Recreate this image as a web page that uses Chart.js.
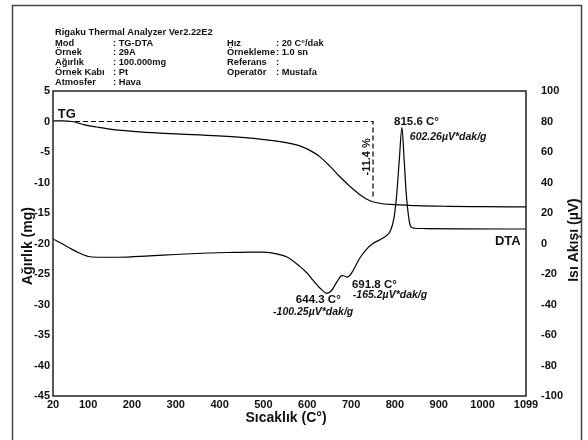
<!DOCTYPE html>
<html>
<head>
<meta charset="utf-8">
<script src="https://cdn.jsdelivr.net/npm/chart.js@4"></script>
<style>
  html, body { margin: 0; padding: 0; background: #fff; }
  canvas { display: block; }
</style>
</head>
<body>
<canvas id="myChart" width="588" height="440"></canvas>
<script>
// Data
const xTicks = [20, 100, 200, 300, 400, 500, 600, 700, 800, 900, 1000, 1099];

// TG curve (mass change, mg)
const tgTemp = [20, 40, 63, 90, 120, 150, 218, 290, 355, 450, 538, 583, 610, 629, 650, 675, 700, 720, 743, 765, 789, 850, 919, 1000, 1099];
const tgMass = [0.1, 0.1, 0, -0.5, -0.9, -1.25, -1.7, -2.0, -2.2, -2.6, -3.3, -4.0, -4.9, -5.8, -7.2, -9.1, -10.8, -12.0, -13.0, -13.4, -13.6, -13.8, -13.9, -13.95, -14.0];

// DTA curve (heat flow, µV)
const dtaTemp = [20, 40, 60, 80, 105, 130, 170, 240, 300, 360, 420, 470, 500, 530, 555, 583, 600, 613, 630, 645, 655, 668, 679, 685, 691, 697, 705, 720, 736, 750, 766, 780, 790, 798, 804, 810, 816, 821, 826, 831, 836, 845, 870, 950, 1099];
const dtaSignal = [3, 0, -3.3, -6.2, -8.7, -9.0, -9.0, -8.1, -7.2, -6.4, -5.9, -5.6, -5.7, -6.8, -9.0, -15, -19.5, -24, -29.5, -32.7, -31, -25, -21, -21.3, -22, -21, -17.5, -9.5, -3.5, 0, 2.5, 5, 8.5, 17, 32, 55, 76, 55, 32, 18, 11, 10, 9.8, 9.6, 9.5];

// -11.4 % mass loss step (dashed)
const stepTemp = [70, 750, 750];
const stepMass = [0, 0, -12.3];

// Header block
const headerTitle = 'Rigaku Thermal Analyzer Ver2.22E2';
const headerLeft = [['Mod', ': TG-DTA'], ['Örnek', ': 29A'], ['Ağırlık', ': 100.000mg'], ['Örnek Kabı', ': Pt'], ['Atmosfer', ': Hava']];
const headerRight = [['Hız', ': 20 C°/dak'], ['Örnekleme', ': 1.0 sn'], ['Referans', ':'], ['Operatör', ': Mustafa']];

// Labels on the plot: [text, temperature, value, axis, style]
const plotLabels = [
  ['TG', 31, 1.15, 'y', 'big'],
  ['815.6 C°', 798, 79.7, 'y1', 'bold'],
  ['602.26µV*dak/g', 834, 69.8, 'y1', 'italic'],
  ['644.3 C°', 574, -37.0, 'y1', 'bold'],
  ['-100.25µV*dak/g', 522, -44.9, 'y1', 'italic'],
  ['691.8 C°', 702, -27.2, 'y1', 'bold'],
  ['-165.2µV*dak/g', 704, -33.8, 'y1', 'italic'],
  ['DTA', 1028, 1.3, 'y1', 'big']
];

const FONT = '"Liberation Sans", Arial, sans-serif';

function toPoints(xs, ys) {
  return xs.map((x, i) => ({ x: x, y: ys[i] }));
}

const decorPlugin = {
  id: 'decor',
  beforeDraw(chart) {
    const c = chart.ctx;
    c.save();
    c.fillStyle = '#fff';
    c.fillRect(0, 0, chart.width, chart.height);
    c.restore();
  },
  afterDraw(chart) {
    const c = chart.ctx;
    const a = chart.chartArea;
    const sx = chart.scales.x;
    c.save();

    // outer frame
    c.strokeStyle = '#444';
    c.lineWidth = 1.5;
    c.strokeRect(12.5, 5.5, 569, 450);

    // plot frame
    c.strokeStyle = '#222';
    c.lineWidth = 1.5;
    c.strokeRect(a.left, a.top, a.right - a.left, a.bottom - a.top);

    // header
    c.fillStyle = '#111';
    c.textBaseline = 'middle';
    c.textAlign = 'left';
    c.font = 'bold 9.3px ' + FONT;
    c.fillText(headerTitle, 55, 32);
    headerLeft.forEach((r, i) => {
      c.fillText(r[0], 55, 43 + i * 9.8);
      c.fillText(r[1], 113, 43 + i * 9.8);
    });
    headerRight.forEach((r, i) => {
      c.fillText(r[0], 227, 43 + i * 9.8);
      c.fillText(r[1], 276, 43 + i * 9.8);
    });

    // labels on curves
    plotLabels.forEach(l => {
      const px = sx.getPixelForValue(l[1]);
      const py = chart.scales[l[3]].getPixelForValue(l[2]);
      if (l[4] === 'big') c.font = 'bold 13px ' + FONT;
      else if (l[4] === 'italic') c.font = 'italic bold 10.5px ' + FONT;
      else c.font = 'bold 11.5px ' + FONT;
      c.fillText(l[0], px, py);
    });

    // -11.4 % vertical label
    c.save();
    c.translate(sx.getPixelForValue(736), chart.scales.y.getPixelForValue(-5.8));
    c.rotate(-Math.PI / 2);
    c.textAlign = 'center';
    c.font = 'bold 11px ' + FONT;
    c.fillText('-11.4 %', 0, 0);
    c.restore();

    // axis titles
    c.font = 'bold 14px ' + FONT;
    c.textAlign = 'center';
    c.fillText('Sıcaklık (C°)', 286, 418);
    c.save();
    c.translate(28, 246);
    c.rotate(-Math.PI / 2);
    c.fillText('Ağırlık (mg)', 0, 0);
    c.restore();
    c.save();
    c.translate(574, 240);
    c.rotate(-Math.PI / 2);
    c.fillText('Isı Akışı (µV)', 0, 0);
    c.restore();

    c.restore();
  }
};

const tickFont = { family: FONT, size: 11, weight: 'bold' };

const ctx = document.getElementById('myChart').getContext('2d');
const chart = new Chart(ctx, {
  type: 'line',
  data: {
    datasets: [
      {
        label: 'TG',
        data: toPoints(tgTemp, tgMass),
        yAxisID: 'y',
        borderColor: '#000',
        borderWidth: 1.2,
        pointRadius: 0,
        cubicInterpolationMode: 'monotone'
      },
      {
        label: 'step',
        data: toPoints(stepTemp, stepMass),
        yAxisID: 'y',
        borderColor: '#000',
        borderWidth: 1.2,
        borderDash: [5, 3],
        pointRadius: 0,
        tension: 0
      },
      {
        label: 'DTA',
        data: toPoints(dtaTemp, dtaSignal),
        yAxisID: 'y1',
        borderColor: '#000',
        borderWidth: 1.2,
        pointRadius: 0,
        cubicInterpolationMode: 'monotone'
      }
    ]
  },
  options: {
    responsive: false,
    animation: false,
    devicePixelRatio: 1,
    layout: { padding: { top: 91, left: 0, right: 0, bottom: 0 } },
    plugins: {
      legend: { display: false },
      tooltip: { enabled: false }
    },
    scales: {
      x: {
        type: 'linear',
        min: 20,
        max: 1099,
        afterBuildTicks: s => { s.ticks = xTicks.map(v => ({ value: v })); },
        afterFit: s => { s.height = 44; },
        grid: { display: false, drawTicks: false },
        border: { display: false },
        ticks: {
          font: tickFont, color: '#111', padding: 2,
          maxRotation: 0, autoSkip: false,
          callback: v => String(v)
        }
      },
      y: {
        position: 'left',
        min: -45,
        max: 5,
        afterFit: s => { s.width = 53; },
        grid: { display: false, drawTicks: false },
        border: { display: false },
        ticks: { stepSize: 5, font: tickFont, color: '#111', padding: 3, callback: v => String(v) }
      },
      y1: {
        position: 'right',
        min: -100,
        max: 100,
        afterFit: s => { s.width = 62; },
        grid: { display: false, drawTicks: false },
        border: { display: false },
        ticks: { stepSize: 20, font: tickFont, color: '#111', padding: 15, callback: v => String(v) }
      }
    }
  },
  plugins: [decorPlugin]
});
</script>
</body>
</html>
